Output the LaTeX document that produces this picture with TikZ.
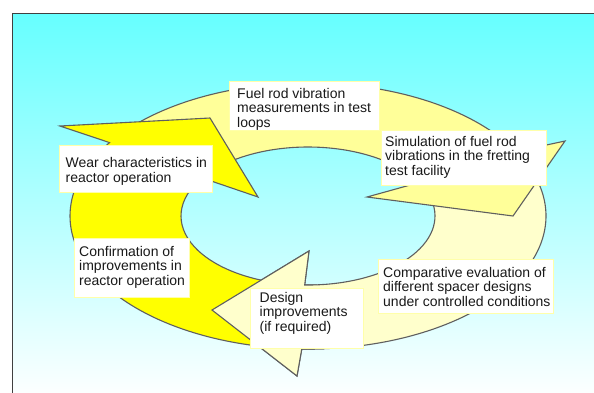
\documentclass[tikz,border=0pt]{standalone}
\usepackage{fontspec}
\setmainfont{Liberation Sans}
\usetikzlibrary{calc}
\definecolor{ringY}{HTML}{FFFF00}
\definecolor{ringL}{HTML}{FFFF99}
\definecolor{ringP}{HTML}{FFFFCC}
\definecolor{edgeC}{HTML}{5F5F5F}
\definecolor{bgTop}{HTML}{66FFFF}
\definecolor{boxEdge}{HTML}{FFFFAA}
\definecolor{frameC}{HTML}{404040}
\begin{document}
\begin{tikzpicture}[x=1bp,y=-1bp,
  arrowshape/.style={draw=edgeC, line width=1.1bp, line join=miter},
  tbox/.style={draw=boxEdge, fill=white, line width=0.8bp, anchor=north west, inner sep=0pt, outer sep=0pt},
  ttext/.style={anchor=north west, inner sep=0pt, align=left, font=\fontsize{14bp}{14.6bp}\selectfont, text=black!90}]
\useasboundingbox (0,0) rectangle (594,392);
\fill[white] (0,0) rectangle (594,392);
\shade[top color=bgTop, bottom color=white] (12,13) rectangle (600,400);
\draw[frameC, line width=1.2bp] (600,13.5) -- (12.5,13.5) -- (12.5,400);

\coordinate (C) at (308,216);
\coordinate (Yob) at (60,126);
\coordinate (Ytip) at (210,118);
\coordinate (Yib) at (258,197);
\coordinate (Lob) at (565,141);
\coordinate (Ltip) at (513,216);
\coordinate (Lib) at (367,197);
\coordinate (Pob) at (297,376);
\coordinate (Ptip) at (212,310);
\coordinate (Pib) at (309,251);

% pale arrow (bottom right)
\path[arrowshape, fill=ringP] ($(C)+(340:238 and 133)$)
  arc[start angle=340, end angle=451.5, x radius=238, y radius=133]
  -- (Pob) -- (Ptip) -- (Pib) -- ($(C)+(451.5:127 and 69)$)
  arc[start angle=451.5, end angle=340, x radius=127, y radius=69] -- cycle;
% light arrow (top)
\path[arrowshape, fill=ringL] ($(C)+(222:238 and 133)$)
  arc[start angle=222, end angle=331, x radius=238, y radius=133]
  -- (Lob) -- (Ltip) -- (Lib) -- ($(C)+(331:127 and 69)$)
  arc[start angle=331, end angle=222, x radius=127, y radius=69] -- cycle;
% yellow arrow (left)
\path[arrowshape, fill=ringY] ($(C)+(100:238 and 133)$)
  arc[start angle=100, end angle=213.5, x radius=238, y radius=133]
  -- (Yob) -- (Ytip) -- (Yib) -- ($(C)+(213.5:127 and 69)$)
  arc[start angle=213.5, end angle=100, x radius=127, y radius=69] -- cycle;
% pale arrow head again, on top of the yellow tail
\path[arrowshape, fill=ringP] ($(C)+(86:238 and 133)$)
  arc[start angle=86, end angle=91.5, x radius=238, y radius=133]
  -- (Pob) -- (Ptip) -- (Pib) -- ($(C)+(91.5:127 and 69)$)
  arc[start angle=91.5, end angle=86, x radius=127, y radius=69];

% text boxes
\node[tbox, minimum width=150bp, minimum height=49bp] (b1) at (229,81) {};
\node[ttext] (t1) at (237,87.9) {Fuel rod vibration\\measurements in test\\loops};
\node[tbox, minimum width=153bp, minimum height=47bp] (b2) at (59,145) {};
\node[ttext] (t2) at (65.5,157.2) {Wear characteristics in\\reactor operation};
\node[tbox, minimum width=165bp, minimum height=55bp] (b3) at (381,130) {};
\node[ttext] (t3) at (385,135.7) {Simulation of fuel rod\\vibrations in the fretting\\test facility};
\node[tbox, minimum width=115bp, minimum height=59bp] (b4) at (74,238) {};
\node[ttext] (t4) at (79,245.9) {Confirmation of\\improvements in\\reactor operation};
\node[tbox, minimum width=113bp, minimum height=60bp] (b5) at (250,288) {};
\node[ttext] (t5) at (259.5,291.8) {Design\\improvements\\(if required)};
\node[tbox, minimum width=175bp, minimum height=54bp] (b6) at (378,259) {};
\node[ttext] (t6) at (383,267) {Comparative evaluation of\\different spacer designs\\under controlled conditions};
\end{tikzpicture}
\end{document}
